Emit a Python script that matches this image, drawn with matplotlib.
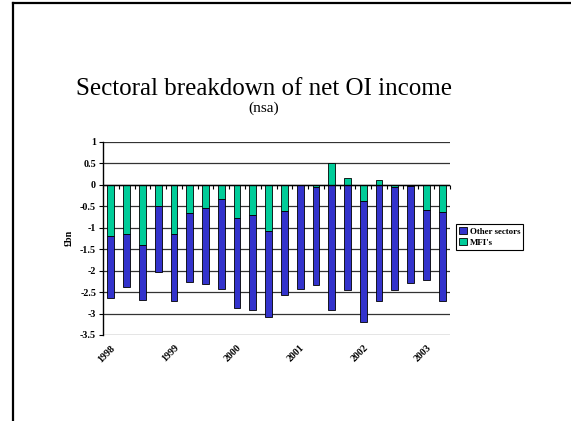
import numpy as np
import matplotlib
matplotlib.use("Agg")
from matplotlib import pyplot as plt

# Quarterly net OI income by sector, 1998 Q1 - 2003 Q2 (GBP bn)
quarters = ["1998", "", "", "", "1999", "", "", "", "2000", "", "", "",
            "2001", "", "", "", "2002", "", "", "", "2003", ""]
mfis = [-1.19, -1.14, -1.40, -0.49, -1.14, -0.65, -0.54, -0.33, -0.77, -0.71,
        -1.09, -0.62, -0.01, -0.05, 0.50, 0.15, -0.38, 0.10, -0.05, -0.03,
        -0.60, -0.64]
other_sectors = [-1.45, -1.25, -1.29, -1.55, -1.58, -1.62, -1.78, -2.09, -2.10,
                 -2.20, -1.99, -1.94, -2.42, -2.28, -2.92, -2.46, -2.81, -2.72,
                 -2.41, -2.25, -1.62, -2.06]

BLUE = "#3333CC"
GREEN = "#00CC99"
SERIF = ["Liberation Serif", "DejaVu Serif"]
SMALL = 7.2

plt.rcParams["font.family"] = SERIF

fig = plt.figure(figsize=(5.71, 4.21), dpi=100)

# slide border (left and top edges only)
fig.add_artist(plt.Line2D([12.5 / 571, 12.5 / 571], [0, 1 - 3 / 421],
                          transform=fig.transFigure, color="black", lw=1.6))
fig.add_artist(plt.Line2D([12.5 / 571, 1], [1 - 3 / 421, 1 - 3 / 421],
                          transform=fig.transFigure, color="black", lw=1.6))

fig.text(0.462, 1 - 95 / 421, "Sectoral breakdown of net OI income",
         ha="center", va="baseline", fontsize=18)
fig.text(0.462, 1 - 112 / 421, "(nsa)", ha="center", va="baseline", fontsize=11)

ax = fig.add_axes([103 / 571, 1 - 335 / 421, 347 / 571, 193.3 / 421])

x = np.arange(len(quarters))
mfis_arr = np.array(mfis)
other_arr = np.array(other_sectors)

# negative MFI values sit next to zero, other sectors stack below them
ax.bar(x, mfis_arr, width=0.43, color=GREEN, edgecolor="black", lw=0.6,
       label="MFI's", zorder=3)
ax.bar(x, other_arr, width=0.43, bottom=np.minimum(mfis_arr, 0), color=BLUE,
       edgecolor="black", lw=0.6, label="Other sectors", zorder=3)

ax.set_xlim(-0.5, len(quarters) - 0.5)
ax.set_ylim(-3.5, 1)
yt = np.arange(-3.5, 1.01, 0.5)
ax.set_yticks(yt)
ax.set_yticklabels([f"{v:g}" for v in yt])
for v in yt:
    ax.axhline(v, color="#333333", lw=0.9, zorder=1)
ax.axhline(0, color="black", lw=1.0, zorder=4)

for side in ("top", "right", "bottom"):
    ax.spines[side].set_visible(False)
ax.spines["left"].set_linewidth(1.0)

ax.set_xticks(x)
ax.set_xticklabels(quarters, rotation=45, ha="right", rotation_mode="anchor",
                   fontsize=SMALL, fontweight="bold")
ax.tick_params(axis="x", length=0, pad=6)
ax.tick_params(axis="y", length=3, width=0.8, labelsize=SMALL, pad=2)
for lab in ax.get_yticklabels():
    lab.set_fontweight("bold")

# category tick marks hanging from the zero line
zero_pos = 3.5 / 4.5
sec = ax.secondary_xaxis(zero_pos)
sec.set_xticks(np.arange(-0.5, len(quarters), 1.0))
sec.set_xticklabels([])
sec.tick_params(direction="in", length=3, width=0.8)
sec.spines["top"].set_visible(False)
sec.spines["bottom"].set_visible(False)

ax.set_ylabel("£bn", fontsize=SMALL, fontweight="bold", labelpad=5)

handles, labels = ax.get_legend_handles_labels()
leg = ax.legend(handles[::-1], labels[::-1], loc="upper left",
                bbox_to_anchor=(456 / 571, 1 - 224 / 421),
                bbox_transform=fig.transFigure, borderaxespad=0,
                prop={"family": SERIF, "size": 6.4, "weight": "bold"},
                handlelength=0.9, handleheight=0.9, handletextpad=0.3,
                borderpad=0.35, labelspacing=0.25, fancybox=False,
                framealpha=1, edgecolor="black")
leg.get_frame().set_linewidth(0.8)

fig.savefig("out.png", dpi=100)
